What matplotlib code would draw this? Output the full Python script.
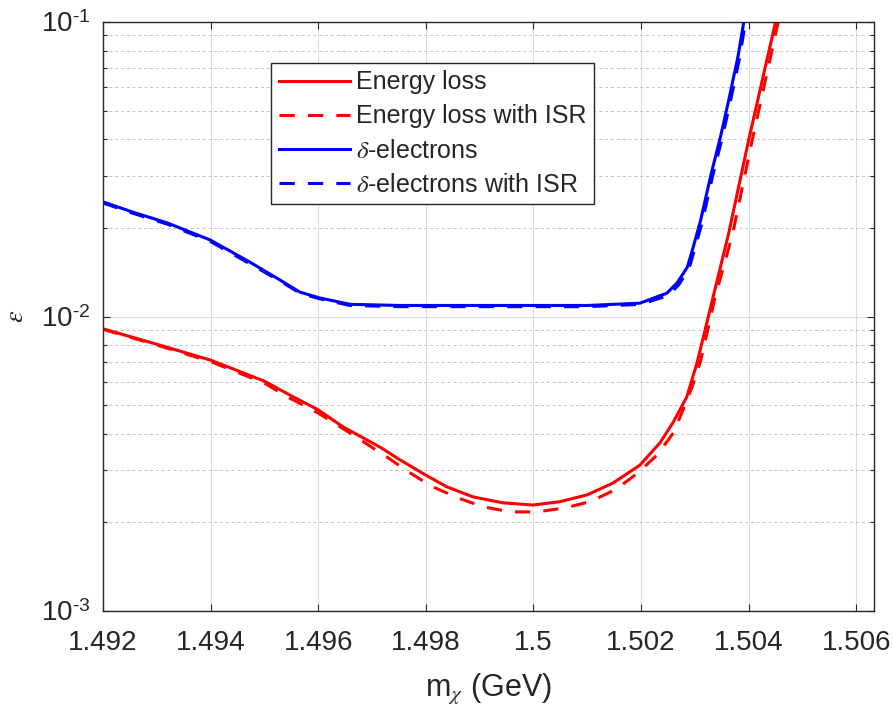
import matplotlib
matplotlib.use("Agg")
from matplotlib import pyplot as plt

# values
x_red = [1.4920, 1.4930, 1.4940, 1.4950, 1.4955, 1.4960, 1.49646, 1.49715, 1.49752, 1.49799,
         1.49839, 1.49888, 1.49943, 1.49999, 1.50049, 1.50100, 1.50148, 1.50198, 1.50235, 1.50259,
         1.50285, 1.50304, 1.50319, 1.50363, 1.50400, 1.50450]
y_red = [0.00908, 0.00805, 0.00711, 0.00603, 0.00538, 0.00482, 0.00422, 0.00360, 0.00326, 0.00290,
         0.00264, 0.00244, 0.00233, 0.00229, 0.00235, 0.00248, 0.00272, 0.00313, 0.00372, 0.00435,
         0.00533, 0.00695, 0.00900, 0.0192, 0.0397, 0.100]

x_red_isr = [1.4920, 1.4930, 1.4940, 1.4950, 1.4955, 1.4960, 1.4965, 1.49728, 1.49771, 1.49813,
             1.49860, 1.49906, 1.49957, 1.50007, 1.50059, 1.50105, 1.50152, 1.50194, 1.50230, 1.50260,
             1.50278, 1.50295, 1.50310, 1.50321, 1.50337, 1.50370, 1.50405, 1.50455]
y_red_isr = [0.00905, 0.00800, 0.00703, 0.00594, 0.00525, 0.00470, 0.00412, 0.00333, 0.00294, 0.00264,
             0.00242, 0.00226, 0.00217, 0.00217, 0.00224, 0.00235, 0.00258, 0.00294, 0.00339, 0.00402,
             0.00482, 0.00577, 0.00700, 0.00851, 0.0115, 0.0190, 0.0385, 0.100]

x_blue = [1.4920, 1.49256, 1.49319, 1.49399, 1.49473, 1.49529, 1.49566, 1.49603, 1.49659, 1.49752,
          1.4990, 1.5010, 1.50198, 1.50248, 1.50267, 1.50286, 1.50297, 1.50311, 1.50329, 1.50348,
          1.50363, 1.50380, 1.50391]
y_blue = [0.0245, 0.0226, 0.0208, 0.0182, 0.0153, 0.0133, 0.0121, 0.01156, 0.0110, 0.0109,
          0.0109, 0.0109, 0.0111, 0.0120, 0.0130, 0.0147, 0.0172, 0.0213, 0.0298, 0.0410,
          0.0543, 0.0760, 0.1000]

x_blue_isr = [1.4920, 1.49256, 1.49319, 1.49399, 1.49473, 1.49529, 1.49566, 1.49603, 1.49659, 1.49752,
              1.4990, 1.5010, 1.50200, 1.50251, 1.50270, 1.50289, 1.50300, 1.50314, 1.50332, 1.50351,
              1.50366, 1.50383, 1.50394]
y_blue_isr = [0.0243, 0.0224, 0.0206, 0.0180, 0.0151, 0.0132, 0.0120, 0.01148, 0.0109, 0.0108,
              0.0108, 0.0108, 0.0110, 0.0118, 0.0128, 0.0145, 0.0170, 0.0210, 0.0294, 0.0405,
              0.0537, 0.0752, 0.1000]

x_ticks = [1.492, 1.494, 1.496, 1.498, 1.500, 1.502, 1.504, 1.506]
x_tick_labels = ['1.492', '1.494', '1.496', '1.498', '1.5', '1.502', '1.504', '1.506']
y_ticks = [1e-3, 1e-2, 1e-1]
y_tick_labels = [r'$10^{\text{-3}}$', r'$10^{\text{-2}}$', r'$10^{\text{-1}}$']

labels = ['Energy loss', 'Energy loss with ISR', r'$\delta$-electrons', r'$\delta$-electrons with ISR']

plt.rcParams['font.family'] = ['Liberation Sans', 'DejaVu Sans']
plt.rcParams['mathtext.fontset'] = 'custom'
plt.rcParams['mathtext.rm'] = 'Liberation Sans'
plt.rcParams['mathtext.it'] = 'STIXGeneral:italic'
plt.rcParams['mathtext.bf'] = 'Liberation Sans:bold'

dark = '#262626'
fig = plt.figure(figsize=(8.93, 7.11), dpi=100)
ax = fig.add_axes([103 / 893, 1 - 611 / 711, 771 / 893, 589 / 711])

lw = 2.2
dash = (5.0, 4.3)
ax.plot(x_red, y_red, color='red', lw=lw, label=labels[0])
ax.plot(x_red_isr, y_red_isr, color='red', lw=lw, dashes=dash, label=labels[1])
ax.plot(x_blue, y_blue, color='blue', lw=lw, label=labels[2])
ax.plot(x_blue_isr, y_blue_isr, color='blue', lw=lw, dashes=dash, label=labels[3])

ax.set_yscale('log')
ax.set_xlim(1.492, 1.50633)
ax.set_ylim(1e-3, 1e-1)
ax.set_xticks(x_ticks)
ax.set_xticklabels(x_tick_labels)
ax.set_yticks(y_ticks)
ax.set_yticklabels(y_tick_labels)

# grid like matlab: solid major, dotted minor on y only
ax.grid(True, which='major', color='#dcdcdc', lw=0.8, ls='-')
ax.yaxis.grid(True, which='minor', color='#c4c4c4', lw=0.7, ls=(0, (3, 3)))
ax.set_axisbelow(True)

ax.tick_params(which='both', direction='in', top=True, right=True, colors=dark,
               labelcolor=dark, labelsize=20)
ax.tick_params(which='major', length=5, width=0.8)
ax.tick_params(which='minor', length=3, width=0.8)
ax.tick_params(axis='x', which='major', pad=14)
ax.tick_params(axis='y', which='major', pad=9)
ax.tick_params(axis='x', which='minor', bottom=False, top=False)
for s in ax.spines.values():
    s.set_color(dark)
    s.set_linewidth(1.0)

ax.set_xlabel(r'm$_\chi$ (GeV)', fontsize=22, color=dark)
ax.set_ylabel(r'$\epsilon$', fontsize=19, color=dark)
ax.xaxis.set_label_coords(0.5, -0.103)
ax.yaxis.set_label_coords(-0.097, 0.5)

leg = ax.legend(loc='upper left', bbox_to_anchor=(271 / 893, 1 - 63 / 711),
                bbox_transform=fig.transFigure, fontsize=18, handlelength=2.85,
                handletextpad=0.25, borderpad=0.3, labelspacing=0.4, borderaxespad=0,
                fancybox=False, framealpha=1, edgecolor=dark)
leg.get_frame().set_linewidth(1.0)
for t in leg.get_texts():
    t.set_color(dark)

fig.savefig('out.png', dpi=100)
